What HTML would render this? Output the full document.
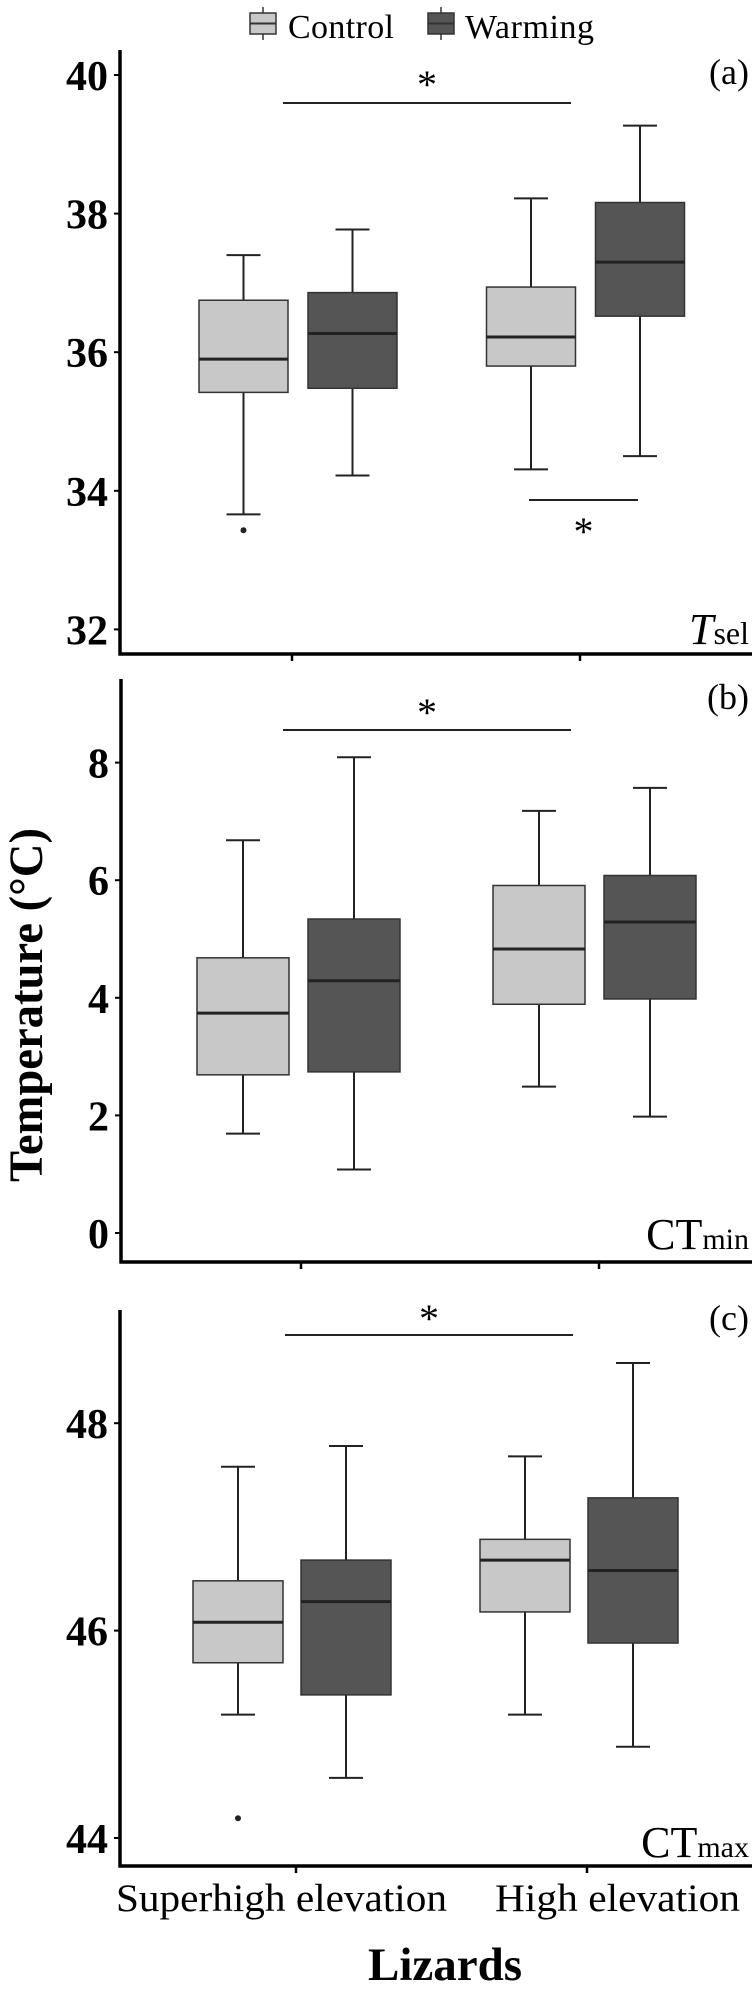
<!DOCTYPE html>
<html><head><meta charset="utf-8"><style>
html,body{margin:0;padding:0;background:#fff}
svg{display:block}
text{font-family:"Liberation Serif",serif;fill:#000}
</style></head><body>
<svg id="chart" width="755" height="1997" viewBox="0 0 755 1997" xmlns="http://www.w3.org/2000/svg">
<g>
  <g>
    <line x1="263" y1="7" x2="263" y2="40" stroke="#333" stroke-width="1.5"/>
    <rect x="250" y="13" width="26" height="21" fill="#c8c8c8" stroke="#333" stroke-width="1.5"/>
    <line x1="250" y1="23.5" x2="276" y2="23.5" stroke="#333" stroke-width="2"/>
    <text x="288" y="38" font-size="34" textLength="106">Control</text>
  </g>
  <g>
    <line x1="441" y1="7" x2="441" y2="40" stroke="#333" stroke-width="1.5"/>
    <rect x="428" y="13" width="26" height="21" fill="#555" stroke="#333" stroke-width="1.5"/>
    <line x1="428" y1="23.5" x2="454" y2="23.5" stroke="#333" stroke-width="2"/>
    <text x="465" y="38" font-size="34" textLength="129">Warming</text>
  </g>
</g>
<text transform="translate(42,1005) rotate(-90)" text-anchor="middle" font-size="48" font-weight="bold" textLength="354" lengthAdjust="spacingAndGlyphs">Temperature (°C)</text>
<text x="116" y="1911" font-size="39" textLength="331" lengthAdjust="spacingAndGlyphs">Superhigh elevation</text>
<text x="495" y="1911" font-size="39" textLength="245" lengthAdjust="spacingAndGlyphs">High elevation</text>
<text x="445" y="1980" text-anchor="middle" font-size="47" font-weight="bold">Lizards</text>
</svg>
<script>
// Panel (a) Tsel
const aTicks = [32, 34, 36, 38, 40];
const aLower = [33.66, 34.22, 34.31, 34.5];
const aQ1 = [35.42, 35.48, 35.8, 36.52];
const aMed = [35.9, 36.27, 36.22, 37.3];
const aQ3 = [36.75, 36.86, 36.94, 38.16];
const aUpper = [37.4, 37.77, 38.22, 39.27];
const aOutliers = [[0, 33.43]];
// Panel (b) CTmin
const bTicks = [0, 2, 4, 6, 8];
const bLower = [1.69, 1.08, 2.49, 1.98];
const bQ1 = [2.69, 2.74, 3.89, 3.98];
const bMed = [3.74, 4.29, 4.83, 5.29];
const bQ3 = [4.68, 5.34, 5.91, 6.08];
const bUpper = [6.68, 8.09, 7.18, 7.57];
const bOutliers = [];
// Panel (c) CTmax
const cTicks = [44, 46, 48];
const cLower = [45.19, 44.58, 45.19, 44.88];
const cQ1 = [45.69, 45.38, 46.18, 45.88];
const cMed = [46.08, 46.28, 46.68, 46.58];
const cQ3 = [46.48, 46.68, 46.88, 47.28];
const cUpper = [47.58, 47.78, 47.68, 48.58];
const cOutliers = [[0, 44.19]];
const groups = ['superhigh-control', 'superhigh-warming', 'high-control', 'high-warming'];

const NS = 'http://www.w3.org/2000/svg';
const svg = document.getElementById('chart');
function mk(tag, attrs, parent) {
  const e = document.createElementNS(NS, tag);
  for (const k in attrs) e.setAttribute(k, attrs[k]);
  (parent || svg).appendChild(e);
  return e;
}
function panel(cfg) {
  const g = mk('g', {});
  
  
  const y = v => cfg.y0 - (v - cfg.v0) * cfg.ppu;
  const xc = i => cfg.cats[Math.floor(i / 2)] + (i % 2 === 0 ? -cfg.off : cfg.off);
  // axes
  const ya = mk('line', {x1: cfg.ax, y1: cfg.top, x2: cfg.ax, y2: cfg.bottom + 1.5, stroke: '#000', 'stroke-width': 3.5}, g);
  
  
  const xa = mk('line', {x1: cfg.ax - 1.5, y1: cfg.bottom, x2: 752, y2: cfg.bottom, stroke: '#000', 'stroke-width': 3.5}, g);
  
  
  cfg.xticks.forEach(x => {
    const t = mk('line', {x1: x, y1: cfg.bottom, x2: x, y2: cfg.bottom + 7, stroke: '#000', 'stroke-width': 2.5}, g);
    
    
  });
  cfg.ticks.forEach(v => {
    const t = mk('line', {x1: cfg.ax - 6, y1: y(v), x2: cfg.ax, y2: y(v), stroke: '#000', 'stroke-width': 2}, g);
    
    
    const l = mk('text', {x: cfg.ax - 12, y: y(v) + 15, 'text-anchor': 'end', 'font-size': 42, 'font-weight': 'bold'}, g);
    l.textContent = v;
    
    
  });
  for (let i = 0; i < 4; i++) {
    const bg = mk('g', {}, g);
    
    
    const cx = xc(i), w = cfg.w, fill = i % 2 === 0 ? '#c8c8c8' : '#555555';
    mk('line', {x1: cx, y1: y(cfg.upper[i]), x2: cx, y2: y(cfg.q3[i]), stroke: '#222', 'stroke-width': 2}, bg);
    mk('line', {x1: cx, y1: y(cfg.q1[i]), x2: cx, y2: y(cfg.lower[i]), stroke: '#222', 'stroke-width': 2}, bg);
    mk('line', {x1: cx - 17, y1: y(cfg.upper[i]), x2: cx + 17, y2: y(cfg.upper[i]), stroke: '#222', 'stroke-width': 2}, bg);
    mk('line', {x1: cx - 17, y1: y(cfg.lower[i]), x2: cx + 17, y2: y(cfg.lower[i]), stroke: '#222', 'stroke-width': 2}, bg);
    mk('rect', {x: cx - w / 2, y: y(cfg.q3[i]), width: w, height: y(cfg.q1[i]) - y(cfg.q3[i]), fill: fill, stroke: '#333', 'stroke-width': 1.5}, bg);
    mk('line', {x1: cx - w / 2, y1: y(cfg.med[i]), x2: cx + w / 2, y2: y(cfg.med[i]), stroke: '#222', 'stroke-width': 3}, bg);
  }
  cfg.outliers.forEach(o => {
    const c = mk('circle', {cx: xc(o[0]), cy: y(o[1]), r: 3, fill: '#222'}, g);
    
    
  });
  cfg.sig.forEach(s => {
    const l = mk('line', {x1: s[0], y1: s[2], x2: s[1], y2: s[2], stroke: '#222', 'stroke-width': 2}, g);
    
    
    const st = mk('text', {x: (s[0] + s[1]) / 2, y: s[3], 'text-anchor': 'middle', 'font-size': 40}, g);
    st.textContent = '*';
    
    
  });
  const pl = mk('text', {x: 749, y: cfg.labY, 'text-anchor': 'end', 'font-size': 36}, g);
  pl.textContent = cfg.label;
  
  
  const vn = mk('text', {x: 749, y: cfg.varY, 'text-anchor': 'end', 'font-size': 40}, g);
  vn.innerHTML = cfg.varHtml;
  
  
}
panel({name: 'panel-a-tsel', ticks: aTicks, lower: aLower, q1: aQ1, med: aMed, q3: aQ3, upper: aUpper, outliers: aOutliers,
  y0: 75, v0: 40, ppu: 69.3, ax: 120, top: 50, bottom: 654, xticks: [292, 580], cats: [298, 585.5], off: 54.5, w: 89,
  sig: [[283, 571, 103, 98], [529, 638, 500, 545]], label: '(a)', labY: 84, varY: 644,
  varHtml: '<tspan font-style="italic" font-size="44">T</tspan><tspan font-size="32">sel</tspan>'});
panel({name: 'panel-b-ctmin', ticks: bTicks, lower: bLower, q1: bQ1, med: bMed, q3: bQ3, upper: bUpper, outliers: bOutliers,
  y0: 1233, v0: 0, ppu: 58.8, ax: 121, top: 679, bottom: 1262, xticks: [301, 599], cats: [298.5, 594.5], off: 55.5, w: 92,
  sig: [[283, 571, 730, 726], [0, 0, -100, -100]].slice(0, 1), label: '(b)', labY: 709, varY: 1249,
  varHtml: '<tspan font-size="44">CT</tspan><tspan font-size="30">min</tspan>'});
panel({name: 'panel-c-ctmax', ticks: cTicks, lower: cLower, q1: cQ1, med: cMed, q3: cQ3, upper: cUpper, outliers: cOutliers,
  y0: 1838, v0: 44, ppu: 103.7, ax: 120, top: 1310, bottom: 1866, xticks: [296, 587], cats: [292, 579], off: 54, w: 90,
  sig: [[285, 573, 1335, 1332]], label: '(c)', labY: 1330, varY: 1857,
  varHtml: '<tspan font-size="44">CT</tspan><tspan font-size="30">max</tspan>'});
</script>
</body></html>
